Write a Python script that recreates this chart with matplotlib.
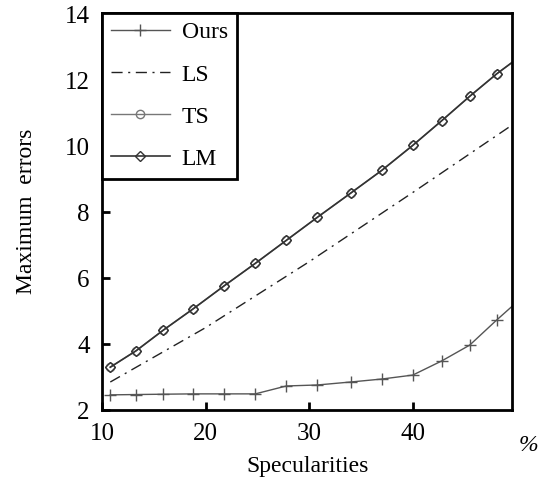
import matplotlib.pyplot as plt
import matplotlib as mpl

mpl.rcParams['font.family'] = 'Liberation Serif'
plt.rcParams['font.size'] = 17

# x positions of the markers, last value runs to the edge
x_pts = [10.8, 13.3, 15.9, 18.8, 21.8, 24.8, 27.8, 30.8, 34.0, 37.0, 40.0, 42.8, 45.5, 48.1, 49.6]
ours = [2.46, 2.47, 2.48, 2.49, 2.49, 2.49, 2.73, 2.76, 2.85, 2.94, 3.06, 3.49, 3.97, 4.73, 5.15]
lm = [3.30, 3.80, 4.42, 5.07, 5.77, 6.45, 7.15, 7.85, 8.58, 9.27, 10.03, 10.78, 11.52, 12.20, 12.55]
ts = lm
ls_x = [10.8, 20, 30, 40, 49.6]
ls_y = [2.85, 4.5, 6.5, 8.6, 10.65]

fig = plt.figure(figsize=(5.44, 4.79), dpi=100)
ax = fig.add_axes([0.1875, 0.144, 0.754, 0.829])

mk = list(range(len(x_pts) - 1))
ax.plot(x_pts, ours, color='#555555', lw=1, marker='+', ms=8, mew=1,
        markevery=mk, label='Ours')
ax.plot(ls_x, ls_y, color='#222222', lw=1, ls=(0, (8, 4, 1.5, 4)), label='LS')
ax.plot(x_pts, ts, color='#777777', lw=1, marker='o', ms=6, mfc='none',
        mec='#777777', markevery=mk, label='TS')
ax.plot(x_pts, lm, color='#333333', lw=1.2, marker='D', ms=5.5, mfc='none',
        mec='#333333', markevery=mk, label='LM')

ax.set_xlim(10, 49.6)
ax.set_ylim(2.1, 14.05)
ax.set_xticks([10, 20, 30, 40])
ax.set_yticks([2, 4, 6, 8, 10, 12, 14])
ax.tick_params(direction='in', length=6, width=2, labelsize=18, pad=9)
for s in ax.spines.values():
    s.set_linewidth(2)

ax.set_xlabel('Specularities', fontsize=17, labelpad=8)
ax.set_ylabel('Maximum  errors', fontsize=17, labelpad=20)
ax.text(1.015, -0.09, '%', transform=ax.transAxes, fontsize=17, style='italic',
        ha='left', va='center')

leg = ax.legend(loc='upper left', borderaxespad=0, fancybox=False,
                edgecolor='black', framealpha=1, handlelength=2.5,
                handletextpad=0.5, labelspacing=0.87, borderpad=0.38, fontsize=17)
leg.get_frame().set_linewidth(2)

plt.savefig('out.png', dpi=100)
